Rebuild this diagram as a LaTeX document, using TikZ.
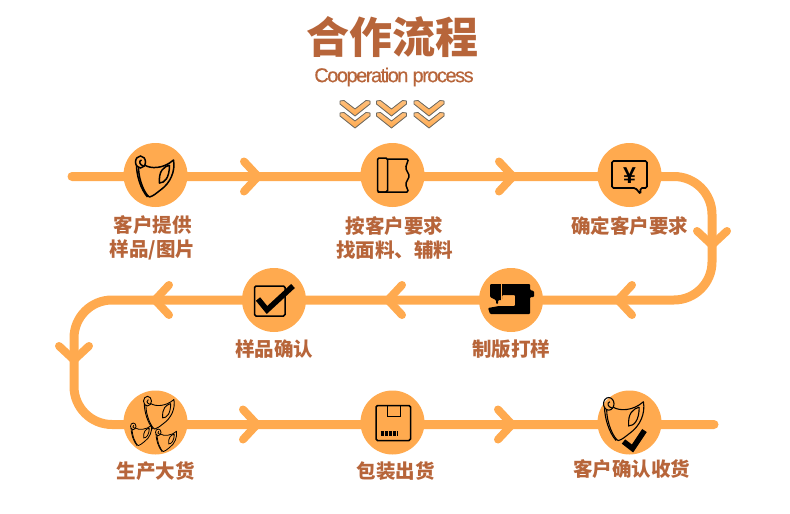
\documentclass[tikz,border=0pt]{standalone}
\usepackage{fontspec}
\usetikzlibrary{positioning}
\newfontfamily\cjk{Noto Sans CJK SC}
\newfontfamily\latinf[LetterSpace=-7.4,FakeBold=0.4]{Liberation Sans}
\definecolor{flow}{HTML}{FFAA4F}
\definecolor{brownish}{HTML}{B7653A}
\definecolor{chevedge}{HTML}{6F6A60}
\tikzset{
  mask/.pic={
    \draw[line join=round] (-11,-10) .. controls (-5,-6) and (8,-6) .. (18,-15) .. controls (20,-4) and (15,8) .. (5,15)
       .. controls (1,18) and (-2,21) .. (-6,22) .. controls (-10,20) and (-17,6) .. (-17,-8);
    \draw (-19,-10) .. controls (-19,0) and (-15,14) .. (-8,22);
    \draw (-15,-13) ellipse [x radius=5,y radius=6];
    \draw (-14,-15) .. controls (-17,-14) and (-16,-10) .. (-12,-9);
    \draw (14,-10) .. controls (8,-8) and (3,-4) .. (4,8) .. controls (9,8) and (14,3) .. (14,-10);
  },
  chevron/.pic={
    \draw[flowline,line width=8pt,line join=miter] (-14,-15) -- (0,0) -- (-14,15);
  },
  topchev/.pic={
    \fill[top color=flow!75,bottom color=flow,draw=chevedge,line width=.8pt,line join=round] (-15,-7) -- (-11,-7.5) -- (0,1) -- (11,-7.5) -- (15,-7) -- (15,-4) -- (0,8) -- (-15,-4) -- cycle;
  }
}
\begin{document}
\begin{tikzpicture}[x=1pt,y=-1pt,node distance=237pt,
    flowline/.style={draw=flow,line width=9pt,line cap=round},
    stepdot/.style={circle,fill=flow,minimum size=64pt,inner sep=0pt},
    steptext/.style={font=\cjk\bfseries\fontsize{19.5}{24}\selectfont,text=brownish,align=center,inner sep=0pt},
    icon/.style={line width=1.5pt,draw=black}]

    \useasboundingbox (0,0) rectangle (790,514);

    \coordinate (start) at (72,176.5);
    \coordinate (turnA) at (712,176.5);
    \coordinate (turnB) at (712,300);
    \coordinate (turnC) at (74,300);
    \coordinate (turnD) at (74,424.5);
    \coordinate (finish) at (714,424.5);

    % the long orange line
    \draw[flowline,rounded corners=38pt] (start) -- (turnA) -- (turnB) -- (turnC) -- (turnD) -- (finish);

    \foreach \px/\py/\ang in {258/176.5/0,513/176.5/0,712/245/-90,618/300/180,388/300/180,155/300/180,74/360/-90,257/424.5/0,512/424.5/0}
        \pic[rotate=\ang] at (\px,\py) {chevron};

    \node[stepdot] (n1) at (155.5,175) {};
    \node[stepdot] (n2) [right of = n1] {};
    \node[stepdot] (n3) [right of = n2] {};
    \node[stepdot] (n4) at (274,300) {};
    \node[stepdot] (n5) [right of = n4] {};
    \node[stepdot] (n7) at (155.5,422.5) {};
    \node[stepdot] (n8) [right of = n7] {};
    \node[stepdot] (n9) [right of = n8] {};

    \node[font=\cjk\bfseries\fontsize{43}{43}\selectfont,text=brownish,inner sep=0pt] (title) at (392,37) {合作流程};
    \node[font=\latinf\fontsize{20}{20}\selectfont,text=brownish,inner sep=0pt] (subtitle) at (394,77) {Cooperation process};

    \foreach \px in {355,391.5,429} {
        \pic at (\px,108) {topchev};
        \pic at (\px,120) {topchev};
    }

    \node[steptext] (t1) [below=8pt of n1,xshift=-3pt] {客户提供\\样品/图片};
    \node[steptext] (t2) [below=9pt of n2,xshift=2pt] {按客户要求\\找面料、辅料};
    \node[steptext] (t3) [below=9pt of n3] {确定客户要求};
    \node[steptext] (t4) [below=7pt of n4] {样品确认};
    \node[steptext] (t5) [below=7pt of n5] {制版打样};
    \node[steptext] (t7) [below=7pt of n7] {生产大货};
    \node[steptext] (t8) [below=7pt of n8,xshift=3pt] {包装出货};
    \node[steptext] (t9) [below=5pt of n9,xshift=2pt] {客户确认收货};

    % icons
    \pic[icon] at (n1) {mask};

    \draw[icon,rounded corners=1.5pt] ([shift={(-15,-17)}]n2.center) rectangle ([shift={(-5,17)}]n2.center);
    \draw[icon,rounded corners=1.5pt] ([shift={(-5,-16)}]n2.center) -- ([shift={(16,-16)}]n2.center) -- ([shift={(13,-7)}]n2.center) -- ([shift={(17,1)}]n2.center) -- ([shift={(13,9)}]n2.center) -- ([shift={(16,17)}]n2.center) -- ([shift={(-15,17)}]n2.center);

    \draw[icon,rounded corners=1.5pt,line width=1.7pt] ([shift={(-17.5,-14)}]n3.center) -- ([shift={(17.5,-14)}]n3.center) -- ([shift={(17.5,13)}]n3.center) -- ([shift={(11,13)}]n3.center) -- ([shift={(11,19)}]n3.center) -- ([shift={(6,13)}]n3.center) -- ([shift={(-17.5,13)}]n3.center) -- cycle;
    \node[font=\fontspec{Liberation Sans}\bfseries\fontsize{23}{23}\selectfont,inner sep=0pt] (yen) at ([yshift=-1pt]n3.center) {¥};

    \draw[icon,rounded corners=1.5pt] ([shift={(-19.5,-14)}]n4.center) rectangle ([shift={(11,16)}]n4.center);
    \draw[line width=5.5pt,line join=miter] ([shift={(-16,-1)}]n4.center) -- ([shift={(-7,10)}]n4.center) -- ([shift={(19,-14)}]n4.center);

    \fill[rounded corners=1pt] ([shift={(-21,-16)}]n5.center) -- ([shift={(19,-16)}]n5.center) -- ([shift={(19,-10)}]n5.center) -- ([shift={(23,-9)}]n5.center) -- ([shift={(23,-3)}]n5.center) -- ([shift={(19,-3)}]n5.center) -- ([shift={(19,14)}]n5.center) -- ([shift={(-21,14)}]n5.center) -- ([shift={(-23,8)}]n5.center) -- ([shift={(-12,6)}]n5.center) -- ([shift={(4,6)}]n5.center) -- ([shift={(4,-5)}]n5.center) -- ([shift={(-9,-5)}]n5.center) -- ([shift={(-9,0)}]n5.center) -- ([shift={(-13,0)}]n5.center) -- ([shift={(-13,4)}]n5.center) -- ([shift={(-15,4)}]n5.center) -- ([shift={(-15,0)}]n5.center) -- ([shift={(-21,-3)}]n5.center) -- cycle;
    \draw[flow,line width=.8pt] ([shift={(-10,-16)}]n5.center) -- ([shift={(-10,0)}]n5.center);

    \pic[icon,line width=.9pt,scale=.8] at ([shift={(4,-11)}]n7.center) {mask};
    \pic[icon,line width=.8pt,scale=.55] at ([shift={(-14,11)}]n7.center) {mask};
    \pic[icon,line width=.8pt,scale=.55] at ([shift={(11,17)}]n7.center) {mask};

    \draw[icon,rounded corners=1.5pt] ([shift={(-16.5,-17)}]n8.center) rectangle ([shift={(18,18)}]n8.center);
    \draw[icon] ([shift={(-5,-17)}]n8.center) -- ([shift={(-5,-6)}]n8.center) -- ([shift={(8,-6)}]n8.center) -- ([shift={(8,-17)}]n8.center);
    \draw[line width=5pt,dash pattern=on 3pt off 1pt] ([shift={(-12,10.5)}]n8.center) -- ([shift={(5,10.5)}]n8.center);

    \pic[icon,line width=1.1pt,scale=1.05] at ([shift={(-5,-5)}]n9.center) {mask};
    \draw[line width=5.5pt,line join=miter] ([shift={(-6,19)}]n9.center) -- ([shift={(3,26)}]n9.center) -- ([shift={(15,8)}]n9.center);

\end{tikzpicture}
\end{document}
